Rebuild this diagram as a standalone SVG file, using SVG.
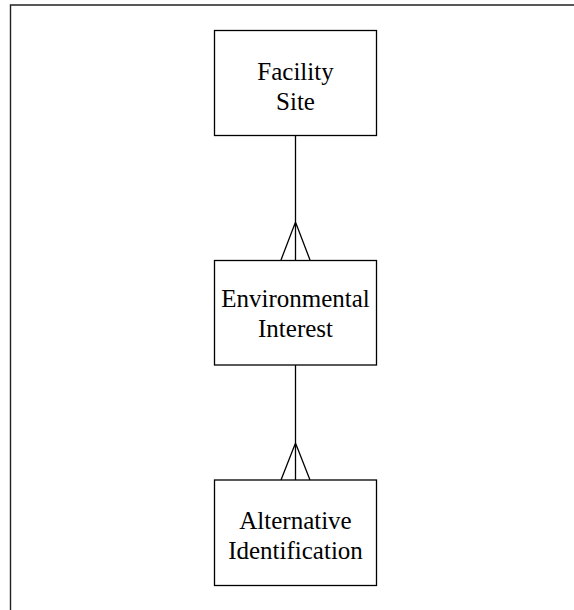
<svg xmlns="http://www.w3.org/2000/svg" width="574" height="610" viewBox="0 0 574 610">
<style>
.box{fill:#fff;stroke:#000;stroke-width:1.3}
.lbl{font-family:"Liberation Serif","Times New Roman",serif;font-size:25px;fill:#000;text-anchor:middle}
.conn{fill:none;stroke:#000;stroke-width:1.3}
.frame{fill:none;stroke:#222;stroke-width:1.4}
</style>
<rect width="574" height="610" fill="#fff"/>
<path class="frame" d="M10.5,610 V5 H574"/>
<g id="connectors">
<path class="conn" d="M295.5,136 V260 M281,260 L295.5,222 L310,260"/>
<path class="conn" d="M295.5,365 V480 M281,480 L295.5,443 L310,480"/>
</g>
<g id="facility-site">
<rect class="box" x="214.5" y="30.5" width="162" height="105"/>
<text class="lbl" x="295.5" y="80">Facility</text>
<text class="lbl" x="295.5" y="110">Site</text>
</g>
<g id="environmental-interest">
<rect class="box" x="214.5" y="260.5" width="162" height="104.5"/>
<text class="lbl" x="295.5" y="307">Environmental</text>
<text class="lbl" x="295.5" y="337">Interest</text>
</g>
<g id="alternative-identification">
<rect class="box" x="214.5" y="480" width="162" height="105.5"/>
<text class="lbl" x="295.5" y="529">Alternative</text>
<text class="lbl" x="295.5" y="559">Identification</text>
</g>
</svg>
